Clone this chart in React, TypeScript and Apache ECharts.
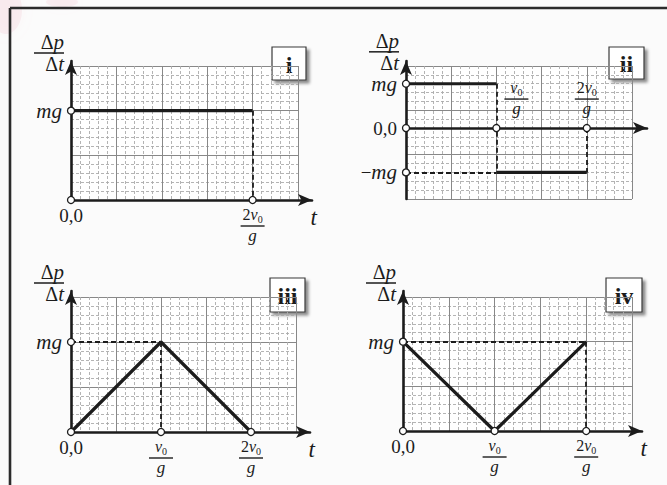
import React, { useEffect, useRef } from 'react';
import * as echarts from 'echarts';

// x in units of v0/g, y in units of mg
// Panel i
const p1Solid = [[[0, 1], [2, 1]]];
const p1Dashed = [[[2, 1], [2, 0]]];
const p1Points = [[0, 0], [0, 1], [2, 0]];
const p1XTicks = [0, 2];
const p1YTicks = [1];

// Panel ii
const p2Solid = [[[0, 1], [1, 1]], [[1, -1], [2, -1]]];
const p2Dashed = [[[1, 1], [1, -1]], [[0, -1], [1, -1]], [[2, 0], [2, -1]]];
const p2Points = [[0, 1], [0, 0], [0, -1], [1, 0], [2, 0]];
const p2XTicks = [1, 2];
const p2YTicks = [-1, 0, 1];

// Panel iii
const p3Solid = [[[0, 0], [1, 1], [2, 0]]];
const p3Dashed = [[[0, 1], [1, 1]], [[1, 1], [1, 0]]];
const p3Points = [[0, 0], [0, 1], [1, 0], [2, 0]];
const p3XTicks = [0, 1, 2];
const p3YTicks = [1];

// Panel iv
const p4Solid = [[[0, 1], [1, 0], [2, 1]]];
const p4Dashed = [[[0, 1], [2, 1]], [[2, 1], [2, 0]]];
const p4Points = [[0, 0], [0, 1], [1, 0], [2, 0]];
const p4XTicks = [0, 1, 2];
const p4YTicks = [1];

const panelLabels = ['i', 'ii', 'iii', 'iv'];
const xTickText: Record<string, string> = {
  '0': '{n|0,0}',
  '1': '{num|v}{sub|0}\n{bar|}\n{den|g}',
  '2': '{numu|2}{num|v}{sub|0}\n{bar|}\n{den|g}',
};
const xTickTextShifted: Record<string, string> = {
  '1': '{sp|}{num|v}{sub|0}\n{sp|}{bar|}\n{sp|}{den|g}',
  '2': '{numu|2}{num|v}{sub|0}\n{bar|}\n{den|g}',
};
const yTickText: Record<string, string> = {
  '1': '{it|mg}',
  '0': '{n|0,0}',
  '-1': '{n|−}{it|mg}',
};
const yName = '{d|Δ}{i|p}\n{bar|}\n{d|Δ}{i|t}';
const xName = 't';

const FONT = "'Liberation Serif', 'Times New Roman', serif";
const INK = '#1c1c1c';

const layouts = [
  { L: 71, R: 298, T: 66, B: 200, xEnd: 312, yEnd: 61, y0: 0, y1: 1.5, above: false, tName: true },
  { L: 406, R: 632, T: 66, B: 199, xEnd: 647, yEnd: 61, y0: -1.6, y1: 1.4, above: true, tName: false },
  { L: 71, R: 296, T: 297, B: 432, xEnd: 310, yEnd: 291, y0: 0, y1: 1.5, above: false, tName: true },
  { L: 403, R: 632, T: 297, B: 431, xEnd: 642, yEnd: 291, y0: 0, y1: 1.5, above: false, tName: true },
];
const boxes = [
  { x: 272, y: 47, w: 34, h: 33 },
  { x: 609, y: 47, w: 35, h: 32 },
  { x: 270, y: 278, w: 35, h: 34 },
  { x: 606, y: 278, w: 36, h: 34 },
];

const panelData = [
  { solid: p1Solid, dashed: p1Dashed, points: p1Points, xTicks: p1XTicks, yTicks: p1YTicks },
  { solid: p2Solid, dashed: p2Dashed, points: p2Points, xTicks: p2XTicks, yTicks: p2YTicks },
  { solid: p3Solid, dashed: p3Dashed, points: p3Points, xTicks: p3XTicks, yTicks: p3YTicks },
  { solid: p4Solid, dashed: p4Dashed, points: p4Points, xTicks: p4XTicks, yTicks: p4YTicks },
];

const labelRich: any = {
  n: { fontFamily: FONT, fontSize: 19, color: INK },
  it: { fontFamily: FONT, fontSize: 21, fontStyle: 'italic', color: INK },
  num: { fontFamily: FONT, fontSize: 16, fontStyle: 'italic', color: INK, lineHeight: 18, verticalAlign: 'top' },
  numu: { fontFamily: FONT, fontSize: 16, color: INK, lineHeight: 18, verticalAlign: 'top' },
  sub: { fontFamily: FONT, fontSize: 10, color: INK, lineHeight: 18, verticalAlign: 'bottom' },
  bar: { width: 24, height: 1.4, backgroundColor: INK, lineHeight: 4 },
  den: { fontFamily: FONT, fontSize: 17, fontStyle: 'italic', color: INK, lineHeight: 15 },
  sp: { width: 40, height: 2 },
};
// same styles for graphic text (which uses fill instead of color)
const graphicRich: any = Object.fromEntries(
  Object.entries(labelRich).map(([k, v]: [string, any]) => [k, { ...v, fill: v.color }])
);
const nameRich: any = {
  d: { fontFamily: FONT, fontSize: 20, color: INK, lineHeight: 19 },
  i: { fontFamily: FONT, fontSize: 21, fontStyle: 'italic', color: INK, lineHeight: 19 },
  bar: { width: 30, height: 1.5, backgroundColor: INK, lineHeight: 3 },
};

function buildOption() {
  const grid: any[] = [];
  const xAxis: any[] = [];
  const yAxis: any[] = [];
  const series: any[] = [];
  const graphic: any[] = [];

  const minorStyle = { color: '#ababab', width: 0.9, type: [3, 2] };
  const majorStyle = { color: '#888888', width: 1, type: 'solid' };

  layouts.forEach((lay, k) => {
    const d = panelData[k];
    const { L, R, T, B, xEnd, yEnd, y0, y1 } = lay;
    const pg = 2 * k;
    const dg = 2 * k + 1;
    grid.push({ left: L, top: T, width: R - L, height: B - T, show: true, backgroundColor: '#ffffff', borderWidth: 0, containLabel: false, outerBoundsMode: 'none' });
    grid.push({ left: L, top: yEnd, width: xEnd - L, height: B - yEnd, containLabel: false, outerBoundsMode: 'none' });

    const paperAxis = (gi: number, max: number, interval: number, style: any) => ({
      type: 'value', gridIndex: gi, min: 0, max, interval,
      axisLine: { show: false }, axisTick: { show: false }, axisLabel: { show: false },
      splitLine: { show: true, lineStyle: style },
    });
    const xMax = 2.5 * (xEnd - L) / (R - L);
    const yMax = y0 + (y1 - y0) * (B - yEnd) / (B - T);

    xAxis.push(paperAxis(pg, 25, 1, minorStyle), paperAxis(pg, 25, 5, majorStyle));
    yAxis.push(paperAxis(pg, 15, 1, minorStyle), paperAxis(pg, 15, 5, majorStyle));

    xAxis.push({
      type: 'value', gridIndex: dg, min: 0, max: xMax,
      axisLine: { show: true, onZero: true, symbol: ['none', 'arrow'], symbolSize: [9, 14], lineStyle: { color: INK, width: 2.6 } },
      axisTick: { show: false },
      splitLine: { show: false },
      axisLabel: {
        show: !lay.above,
        customValues: d.xTicks,
        margin: 6,
        formatter: (v: number) => xTickText[String(v)] || '',
        rich: labelRich,
      },
      name: lay.tName ? xName : '',
      nameLocation: 'end',
      nameGap: 5,
      nameTextStyle: { fontFamily: FONT, fontSize: 23, fontStyle: 'italic', color: INK, align: 'right', verticalAlign: 'top', padding: [6, 0, 0, 0] },
    });
    yAxis.push({
      type: 'value', gridIndex: dg, min: y0, max: yMax,
      axisLine: { show: true, onZero: true, symbol: ['none', 'arrow'], symbolSize: [9, 14], lineStyle: { color: INK, width: 2.6 } },
      axisTick: { show: false },
      splitLine: { show: false },
      axisLabel: {
        customValues: d.yTicks,
        margin: 9,
        formatter: (v: number) => yTickText[String(v)] || '',
        rich: labelRich,
      },
      name: yName,
      nameLocation: 'end',
      nameGap: 8,
      nameTextStyle: { align: 'right', verticalAlign: 'middle', padding: [0, 7, 0, 0], rich: nameRich },
    });

    const xi = 3 * k + 2;
    d.solid.forEach((seg) => {
      series.push({
        type: 'line', xAxisIndex: xi, yAxisIndex: xi, data: seg, symbol: 'none', silent: true,
        lineStyle: { color: INK, width: 3.2 }, z: 3,
      });
    });
    series.push({
      type: 'lines', coordinateSystem: 'cartesian2d', xAxisIndex: xi, yAxisIndex: xi,
      data: d.dashed.map((c) => ({ coords: c })),
      lineStyle: { color: INK, width: 1.8, type: [5, 3], opacity: 1 }, z: 3, silent: true,
    });
    series.push({
      type: 'scatter', xAxisIndex: xi, yAxisIndex: xi, data: d.points, symbol: 'circle', symbolSize: 7,
      itemStyle: { color: '#ffffff', borderColor: INK, borderWidth: 1.3, opacity: 1 }, z: 5, silent: true,
    });

    const b = boxes[k];
    graphic.push({
      type: 'group', x: b.x, y: b.y, z: 20,
      children: [
        { type: 'rect', shape: { x: 0, y: 0, width: b.w, height: b.h }, style: { fill: '#ffffff', stroke: '#3a3a3a', lineWidth: 1.2, shadowBlur: 3, shadowOffsetX: 3, shadowOffsetY: 3, shadowColor: 'rgba(0,0,0,0.45)' } },
        { type: 'text', x: b.w / 2, y: b.h / 2 + 1, style: { text: panelLabels[k], font: `bold 24px ${FONT}`, fill: INK, align: 'center', verticalAlign: 'middle' } },
      ],
    });
  });

  // faint pink watermark at the top-left
  graphic.push({ type: 'ellipse', shape: { cx: 6, cy: 10, rx: 16, ry: 24 }, style: { fill: 'rgba(236,170,186,0.16)', shadowBlur: 14, shadowColor: 'rgba(236,170,186,0.35)' }, z: 1 });
  graphic.push({ type: 'ellipse', shape: { cx: 62, cy: 2, rx: 16, ry: 5 }, style: { fill: 'rgba(236,170,186,0.16)', shadowBlur: 10, shadowColor: 'rgba(236,170,186,0.35)' }, z: 1 });
  // frame
  graphic.push({ type: 'line', shape: { x1: 10, y1: 8, x2: 667, y2: 8 }, style: { stroke: '#2b2b2b', lineWidth: 2.6 }, z: 10 });
  graphic.push({ type: 'line', shape: { x1: 10, y1: 8, x2: 10, y2: 485 }, style: { stroke: '#2b2b2b', lineWidth: 2.6 }, z: 10 });

  return {
    animation: false,
    backgroundColor: '#fbfbfb',
    textStyle: { fontFamily: FONT },
    grid, xAxis, yAxis, series, graphic,
  };
}

export default function App() {
  const ref = useRef<HTMLDivElement>(null);
  useEffect(() => {
    if (!ref.current) return;
    const chart = echarts.init(ref.current, undefined, { renderer: 'svg' });
    const option: any = buildOption();
    chart.setOption(option);
    // tick labels that sit above the t-axis (panel ii, where the t-axis lies at y = 0)
    const extra: any[] = [];
    layouts.forEach((lay, k) => {
      if (!lay.above) return;
      const xi = 3 * k + 2;
      panelData[k].xTicks.forEach((x) => {
        const pt = chart.convertToPixel({ xAxisIndex: xi, yAxisIndex: xi } as any, [x, 0]) as number[];
        if (!pt) return;
        extra.push({
          type: 'text', x: pt[0], y: pt[1] - 12, z: 15, silent: true,
          style: { text: xTickTextShifted[String(x)] || '', rich: graphicRich, align: 'center', verticalAlign: 'bottom', fill: INK },
        });
      });
    });
    chart.setOption({ graphic: [...option.graphic, ...extra] } as any);
    return () => chart.dispose();
  }, []);
  return <div ref={ref} style={{ position: 'fixed', left: 0, top: 0, width: 667, height: 485 }} />;
}
